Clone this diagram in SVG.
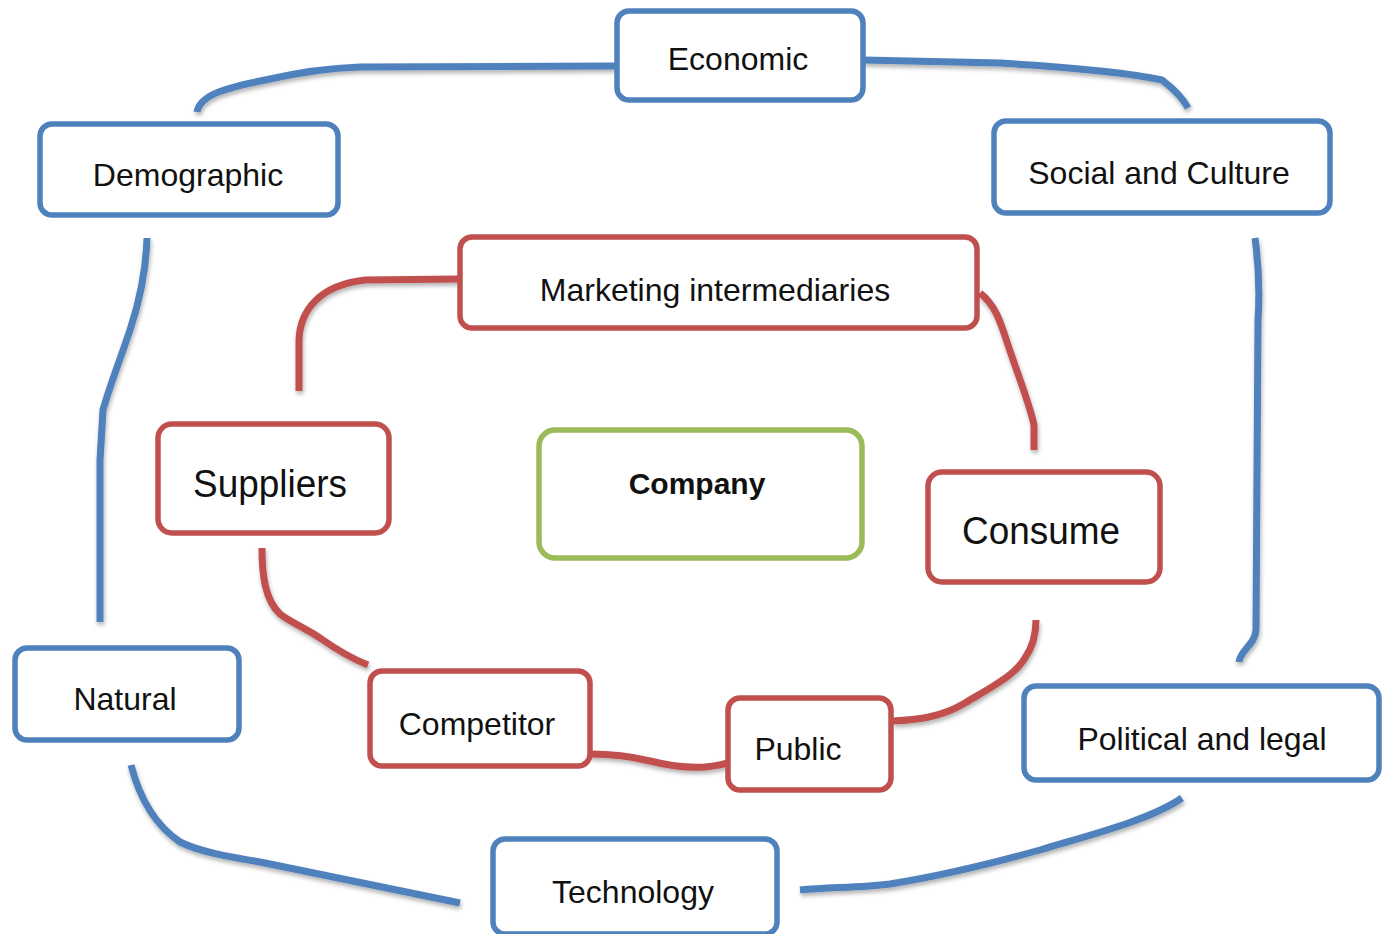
<svg xmlns="http://www.w3.org/2000/svg" width="1382" height="934" viewBox="0 0 1382 934">
<style>
.box{fill:#ffffff;stroke-width:5.5}
.blue{stroke:#4F81BD}
.red{stroke:#C0504D}
.green{stroke:#9BBB59}
.lbl{font-family:"Liberation Sans",Arial,sans-serif;font-size:32px;fill:#111;text-anchor:middle}
.big{font-size:38px}
.bold{font-weight:bold;font-size:30px}
.conn{fill:none;stroke-width:7;stroke-linecap:butt;stroke-linejoin:round}
</style>
<defs>
<filter id="sh" x="-10%" y="-10%" width="120%" height="130%">
<feDropShadow dx="1" dy="3" stdDeviation="2" flood-color="#000" flood-opacity="0.3"/>
</filter>
</defs>
<rect width="1382" height="934" fill="#ffffff"/>
<g id="connectors" filter="url(#sh)">
<path class="conn blue" d="M197,112 C200,95 225,88 265,80 C300,72 330,68 360,67 L616,66"/>
<path class="conn blue" d="M863,60 L1000,63 C1080,68 1130,73 1162,80 C1175,90 1184,100 1188,108"/>
<path class="conn blue" d="M1255,238 C1258,260 1260,290 1258,320 L1256,630 C1255,645 1240,650 1239,662"/>
<path class="conn blue" d="M147,238 C146,270 140,300 130,330 C120,360 110,385 103,410 L100,460 L100,622"/>
<path class="conn blue" d="M131,765 C140,800 155,825 180,842 C200,852 230,857 260,862 L460,903"/>
<path class="conn blue" d="M800,890 C830,887 860,888 890,884 C940,876 990,864 1040,850 C1090,835 1150,820 1182,798"/>
<path class="conn red" d="M459,279 L365,280 C320,285 300,310 299,340 L299,391"/>
<path class="conn red" d="M980,293 C995,305 1000,320 1008,345 C1018,375 1030,405 1034,425 L1034,450"/>
<path class="conn red" d="M262,548 C262,575 265,600 280,614 C290,622 305,628 320,638 C340,652 355,660 368,665"/>
<path class="conn red" d="M590,754 C610,754 630,756 650,761 C670,766 690,768 705,767 C715,766 722,765 727,763"/>
<path class="conn red" d="M893,721 C915,720 940,718 965,703 C995,685 1015,675 1025,658 C1034,645 1036,630 1036,620"/>
</g>
<g id="economic"><rect class="box blue" x="617" y="11" width="246" height="89" rx="12"/><text class="lbl" x="738" y="70">Economic</text></g>
<g id="demographic"><rect class="box blue" x="40" y="124" width="298" height="91" rx="12"/><text class="lbl" x="188" y="186">Demographic</text></g>
<g id="social"><rect class="box blue" x="994" y="121" width="336" height="92" rx="12"/><text class="lbl" x="1159" y="184">Social and Culture</text></g>
<g id="marketing"><rect class="box red" x="460" y="237" width="517" height="91" rx="12"/><text class="lbl" x="715" y="301">Marketing intermediaries</text></g>
<g id="suppliers"><rect class="box red" x="158" y="424" width="231" height="109" rx="14"/><text class="lbl big" x="270" y="497" textLength="154" lengthAdjust="spacingAndGlyphs">Suppliers</text></g>
<g id="company"><rect class="box green" x="539" y="430" width="323" height="128" rx="16"/><text class="lbl bold" x="697" y="494">Company</text></g>
<g id="consume"><rect class="box red" x="928" y="472" width="232" height="110" rx="14"/><text class="lbl big" x="1041" y="544" textLength="158" lengthAdjust="spacingAndGlyphs">Consume</text></g>
<g id="natural"><rect class="box blue" x="15" y="648" width="224" height="92" rx="12"/><text class="lbl" x="125" y="710">Natural</text></g>
<g id="competitor"><rect class="box red" x="370" y="671" width="220" height="95" rx="12"/><text class="lbl" x="477" y="735">Competitor</text></g>
<g id="public"><rect class="box red" x="728" y="698" width="163" height="92" rx="12"/><text class="lbl" x="798" y="760">Public</text></g>
<g id="political"><rect class="box blue" x="1024" y="686" width="355" height="94" rx="12"/><text class="lbl" x="1202" y="750">Political and legal</text></g>
<g id="technology"><rect class="box blue" x="493" y="839" width="284" height="95" rx="12"/><text class="lbl" x="633" y="903">Technology</text></g>
</svg>
